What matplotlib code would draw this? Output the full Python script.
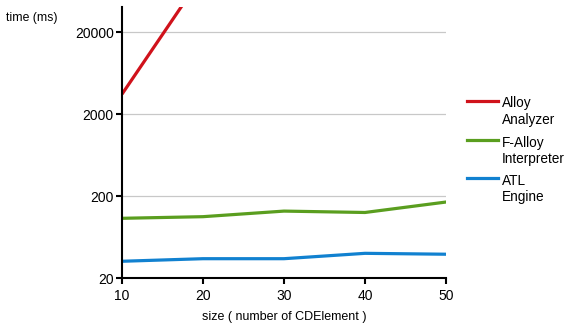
import matplotlib
matplotlib.use("Agg")
import matplotlib.pyplot as plt
from matplotlib.lines import Line2D

plt.rcParams['font.family'] = ['Liberation Sans', 'DejaVu Sans']

sizes = [10, 20, 30, 40, 50]
alloy_sizes = [10, 20]
alloy_analyzer = [3500, 100000]
falloy_interpreter = [107, 112, 131, 126, 169]
atl_engine = [32, 34.4, 34.4, 40, 39]

series_names = ["Alloy\nAnalyzer", "F-Alloy\nInterpreter", "ATL\nEngine"]
colors = ["#d0121b", "#5a9e1f", "#1181d0"]
y_ticks = [20, 200, 2000, 20000]

W, H = 566, 324
fig = plt.figure(figsize=(W / 100, H / 100), dpi=100)
ax = fig.add_axes([122 / W, 1 - 278 / H, (446 - 122) / W, (278 - 7) / H])

lw = 2.3
ax.plot(alloy_sizes, alloy_analyzer, color=colors[0], lw=lw, solid_capstyle='butt')
ax.plot(sizes, falloy_interpreter, color=colors[1], lw=lw)
ax.plot(sizes, atl_engine, color=colors[2], lw=lw)

ax.set_yscale('log')
ax.set_ylim(20, 40500)
ax.set_xlim(10, 50)
ax.set_yticks(y_ticks)
ax.set_yticklabels([str(v) for v in y_ticks])
ax.minorticks_off()
ax.set_xticks(sizes)
ax.grid(axis='y', color='#c8c8c8', lw=0.9)
ax.set_axisbelow(True)

for s in ['top', 'right']:
    ax.spines[s].set_visible(False)
for s in ['left', 'bottom']:
    ax.spines[s].set_linewidth(1.5)
ax.tick_params(axis='both', direction='out', length=4, width=1.5, labelsize=10)
ax.tick_params(axis='y', pad=2)
ax.tick_params(axis='x', pad=4)

ax.set_xlabel("size ( number of CDElement )", fontsize=9, labelpad=6)
fig.text(6 / W, 1 - 18 / H, "time (ms)", fontsize=8.8, va='center', ha='left')

# legend drawn by hand: line aligned with the first text row of each entry
entry_y = [101, 140, 178.3]
for c, name, y in zip(colors, series_names, entry_y):
    fig.add_artist(Line2D([467.3 / W, 497.7 / W], [1 - y / H, 1 - y / H],
                          color=c, lw=2.3, transform=fig.transFigure))
    fig.text(502 / W, 1 - (y - 4.5) / H, name, fontsize=9.8, va='top', ha='left',
             linespacing=1.2)

fig.savefig("out.png", dpi=100)
